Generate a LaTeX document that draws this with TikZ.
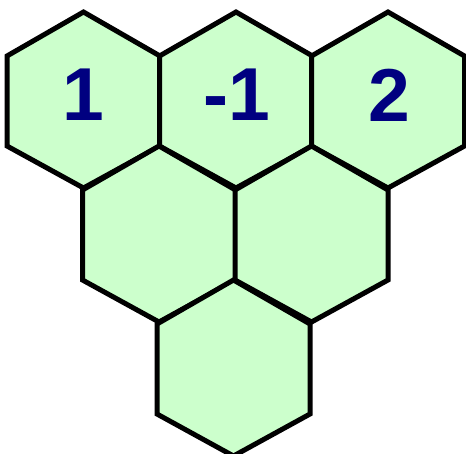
\documentclass[tikz,border=0pt]{standalone}
\usepackage{fontspec}
\setmainfont{Liberation Sans}
\definecolor{cellfill}{HTML}{CCFFCC}
\definecolor{numcol}{HTML}{000080}
\newcommand\hexcell[2]{\draw[cell,shift={(#1,#2)}] (0,-88) -- (76.5,-44) -- (76.5,46) -- (0,88) -- (-76.5,46) -- (-76.5,-44) -- cycle;}
\begin{document}
\begin{tikzpicture}[x=1pt,y=-1pt,
  cell/.style={fill=cellfill,draw=black,line width=5pt,line join=miter},
  num/.style={text=numcol,inner sep=0pt,font=\bfseries\fontsize{75}{75}\selectfont}]
\useasboundingbox (0,0) rectangle (466,453);
\hexcell{83.5}{100}
\hexcell{236}{100}
\hexcell{388}{100}
\hexcell{159}{234}
\hexcell{311.5}{234}
\hexcell{233.5}{368}
\node[num] (n1) at (83,95) {1};
\node[num] (n2) at (237,95) {-1};
\node[num] (n3) at (389,95) {2};
\end{tikzpicture}
\end{document}
